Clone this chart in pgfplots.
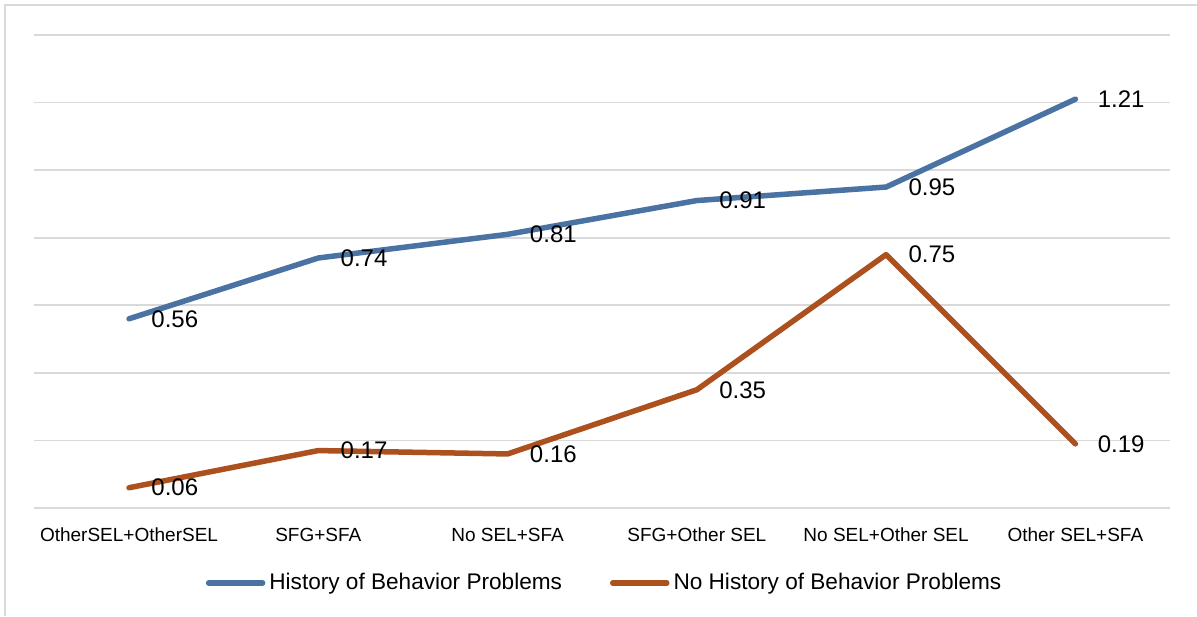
\documentclass[border=0pt]{standalone}
\usepackage{fontspec}
\setmainfont{Liberation Sans}
\usepackage{pgfplots}
\pgfplotsset{compat=1.18}
\definecolor{histblue}{RGB}{74,114,163}
\definecolor{nohistorange}{RGB}{172,80,30}
\definecolor{gridgray}{RGB}{217,217,217}

\begin{document}
\begin{tikzpicture}
\begin{axis}[
  scale only axis,
  width=567.8pt, height=236.5pt,
  xmin=-0.5, xmax=5.5, ymin=0, ymax=1.4,
  xtick={0,1,2,3,4,5},
  xticklabels={OtherSEL+OtherSEL, SFG+SFA, No SEL+SFA, SFG+Other SEL, No SEL+Other SEL, Other SEL+SFA},
  ytick={0,0.2,0.4,0.6,0.8,1.0,1.2,1.4},
  yticklabels={},
  ymajorgrids,
  grid style={gridgray, line width=0.8pt},
  axis line style={draw=none},
  major tick length=0pt,
  xticklabel style={font=\fontsize{9.5}{11}\selectfont, anchor=center, yshift=-13.5pt},
  legend columns=2,
  legend style={at={(0.503,-0.1586)}, anchor=center, draw=none,
    font=\fontsize{11.3}{13}\selectfont,
    /tikz/every even column/.append style={column sep=22pt}},
  legend image code/.code={\draw[#1] (0pt,0pt) -- (27pt,0pt);},
  nodes near coords,
  point meta=explicit symbolic,
  every node near coord/.append style={anchor=west, xshift=6.5pt, text=black,
    font=\fontsize{12}{14}\selectfont},
]
\addplot[histblue, line width=2.75pt, line cap=round, line join=round] table[meta=label] {
x y label
0 0.56 0.56
1 0.74 0.74
2 0.81 0.81
3 0.91 0.91
4 0.95 0.95
5 1.21 1.21
};
\addlegendentry{History of Behavior Problems}
\addplot[nohistorange, line width=2.75pt, line cap=round, line join=round] table[meta=label] {
x y label
0 0.06 0.06
1 0.17 0.17
2 0.16 0.16
3 0.35 0.35
4 0.75 0.75
5 0.19 0.19
};
\addlegendentry{No History of Behavior Problems}
\end{axis}
\draw[gridgray, line width=1pt] (-14.7pt,-54pt) -- (-14.7pt,251.5pt) -- (581.3pt,251.5pt);
\pgfresetboundingbox
\useasboundingbox (-17.2pt,-54pt) rectangle (581.3pt,254pt);
\end{tikzpicture}
\end{document}
